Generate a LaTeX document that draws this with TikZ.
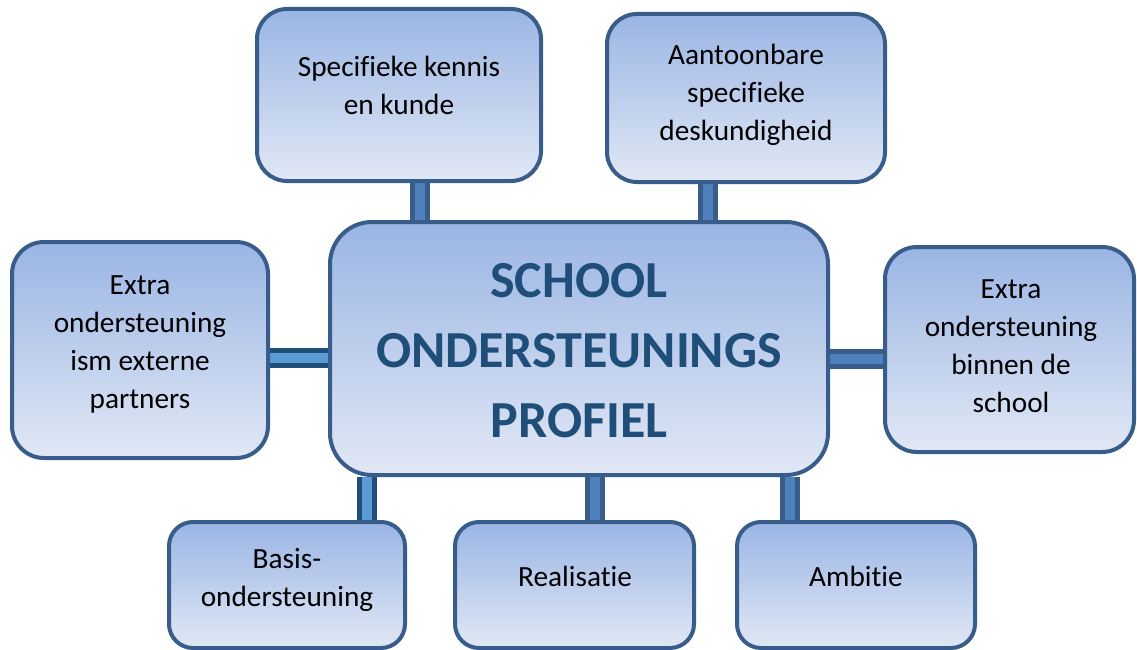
\documentclass[tikz,border=0pt]{standalone}
\usepackage{fontspec}
\setmainfont{Carlito}[Ligatures=NoCommon]
\usetikzlibrary{backgrounds}
\definecolor{boxline}{RGB}{56,93,138}
\definecolor{boxtop}{RGB}{154,181,228}
\definecolor{boxbot}{RGB}{225,232,245}
\definecolor{barfill}{RGB}{79,129,189}
\definecolor{barline}{RGB}{56,93,138}
\definecolor{barfillb}{RGB}{91,155,213}
\definecolor{barlineb}{RGB}{31,78,121}
\definecolor{titleblue}{RGB}{31,78,121}
\tikzset{
  box/.style={draw=boxline, line width=4pt, top color=boxtop, bottom color=boxbot,
    shading angle=0, inner sep=0pt, minimum width=#1},
  txt/.style={font=\fontsize{29.3}{38}\selectfont, align=center, inner sep=0pt,
    anchor=north, text=black, execute at begin node=\strut},
  bigtxt/.style={font=\fontsize{52}{70}\selectfont\bfseries, align=center, inner sep=0pt,
    anchor=north, text=titleblue, execute at begin node=\strut},
  bar/.style={draw=barline, line width=5pt, double=barfill, double distance=10pt},
  barb/.style={draw=barlineb, line width=5pt, double=barfillb, double distance=10pt}
}
\begin{document}
\begin{tikzpicture}[x=1pt,y=-1pt]
\useasboundingbox (0,0) rectangle (1137,650);
% boxes
\node[box=284pt, minimum height=172pt, rounded corners=30pt] (top1) at (399,95) {};
\node[box=278pt, minimum height=168pt, rounded corners=30pt] (top2) at (746,98) {};
\node[box=256pt, minimum height=216pt, rounded corners=32pt] (left) at (140,350) {};
\node[box=249pt, minimum height=205pt, rounded corners=32pt] (right) at (1009.5,349.5) {};
\node[box=498pt, minimum height=253pt, rounded corners=42pt] (center) at (579,348.5) {};
\node[box=236pt, minimum height=126pt, rounded corners=24pt] (b1) at (287,585) {};
\node[box=239pt, minimum height=126pt, rounded corners=24pt] (b2) at (574.5,585) {};
\node[box=238pt, minimum height=126pt, rounded corners=24pt] (b3) at (856,585) {};
% texts
\node[txt] (t1) at (399,56.4) {Specifieke kennis\\en kunde};
\node[txt] (t2) at (746,44.4) {Aantoonbare\\specifieke\\deskundigheid};
\node[txt] (tl) at (140,275.4) {Extra\\ondersteuning\\ism externe\\partners};
\node[txt] (tr) at (1011,279.4) {Extra\\ondersteuning\\binnen de\\school};
\node[txt] (tb1) at (287,548.4) {Basis-\\ondersteuning};
\node[txt] (tb2) at (575,559.4) {Realisatie};
\node[txt] (tb3) at (856,559.4) {Ambitie};
\node[bigtxt] (tc) at (579,263) {SCHOOL\\ONDERSTEUNINGS\\PROFIEL};
% connectors
\begin{scope}[on background layer]
\draw[bar] ([xshift=21pt]top1.south) -- ([xshift=21pt]top1.south |- center.north);
\draw[bar] ([xshift=-38pt]top2.south) -- ([xshift=-38pt]top2.south |- center.north);
\draw[barb] ([yshift=-8pt]left.east) -- ([yshift=-8pt]left.east -| center.west);
\draw[bar] ([yshift=-9pt]right.west) -- ([yshift=-9pt]right.west -| center.east);
\draw[barb] ([xshift=80pt]b1.north) -- ([xshift=80pt]b1.north |- center.south);
\draw[bar] ([xshift=20.5pt]b2.north) -- ([xshift=20.5pt]b2.north |- center.south);
\draw[bar] ([xshift=-66pt]b3.north) -- ([xshift=-66pt]b3.north |- center.south);
\end{scope}
\end{tikzpicture}
\end{document}
